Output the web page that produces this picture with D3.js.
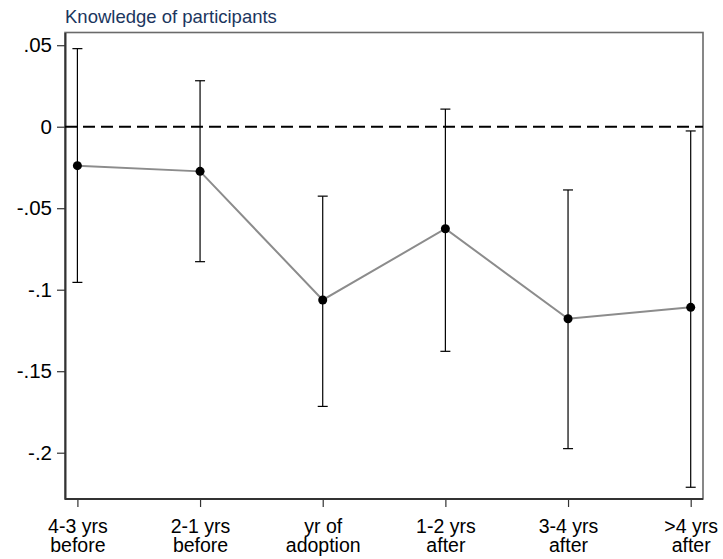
<!DOCTYPE html>
<html>
<head>
<meta charset="utf-8">
<script src="https://cdn.jsdelivr.net/npm/d3@7"></script>
<style>
  html, body { margin: 0; padding: 0; background: #fff; }
  svg { display: block; font-family: "Liberation Sans", Arial, sans-serif; }
</style>
</head>
<body>
<svg id="chart" width="723" height="559"></svg>
<script>
// Event-study estimates with 95% confidence intervals
const categories = ["4-3 yrs|before", "2-1 yrs|before", "yr of|adoption", "1-2 yrs|after", "3-4 yrs|after", ">4 yrs|after"];
const estimates = [-0.0239, -0.0274, -0.1063, -0.0626, -0.1178, -0.1108];
const ciLower = [-0.0955, -0.0828, -0.1716, -0.1378, -0.1975, -0.2212];
const ciUpper = [0.0479, 0.0282, -0.0426, 0.0108, -0.0388, -0.0026];
const yTicks = [0.05, 0, -0.05, -0.1, -0.15, -0.2];
const yTickLabels = [".05", "0", "-.05", "-.1", "-.15", "-.2"];
const title = "Knowledge of participants";

const svg = d3.select("#chart");
const plot = { left: 65, right: 703, top: 32.5, bottom: 499 };

const x = d3.scalePoint().domain(categories).range([77.4, 690.7]);
const y = d3.scaleLinear().domain([-0.2284, 0.0578]).range([plot.bottom, plot.top]);

// plot region frame
svg.append("rect")
  .attr("x", plot.left).attr("y", plot.top)
  .attr("width", plot.right - plot.left).attr("height", plot.bottom - plot.top)
  .attr("fill", "none").attr("stroke", "#6a6a6a").attr("stroke-width", 1.6);

// title
svg.append("text")
  .attr("x", plot.left).attr("y", 23)
  .attr("fill", "#1b365e").attr("font-size", 18.5)
  .text(title);

// y axis
const yAxis = d3.axisLeft(y).tickValues(yTicks).tickSize(8).tickSizeOuter(0).tickPadding(5)
  .tickFormat((d, i) => yTickLabels[i]);
const gy = svg.append("g").attr("transform", `translate(${plot.left},0)`).call(yAxis);
gy.select(".domain").attr("stroke", "#333").attr("stroke-width", 2);
gy.selectAll(".tick line").attr("stroke", "#333").attr("stroke-width", 1.2);
gy.selectAll(".tick text").attr("fill", "#000").attr("font-size", 20.5)
  .attr("font-family", "'Liberation Sans', Arial, sans-serif");

// x axis with two-line labels
const xAxis = d3.axisBottom(x).tickSize(8).tickSizeOuter(0).tickFormat("");
const gx = svg.append("g").attr("transform", `translate(0,${plot.bottom})`).call(xAxis);
gx.select(".domain").remove();
gx.selectAll(".tick line").attr("stroke", "#333").attr("stroke-width", 1.2);
gx.selectAll(".tick").append("text")
  .attr("fill", "#000").attr("font-size", 19.5).attr("text-anchor", "middle")
  .attr("font-family", "'Liberation Sans', Arial, sans-serif")
  .each(function (d) {
    const parts = d.split("|");
    const t = d3.select(this);
    t.append("tspan").attr("x", 0).attr("y", 34.3).text(parts[0]);
    t.append("tspan").attr("x", 0).attr("y", 52.9).text(parts[1]);
  });
// bottom axis line across the plot region
svg.append("line")
  .attr("x1", plot.left).attr("x2", plot.right)
  .attr("y1", plot.bottom).attr("y2", plot.bottom)
  .attr("stroke", "#333").attr("stroke-width", 2);

// zero reference line
svg.append("line")
  .attr("x1", plot.left).attr("x2", plot.right)
  .attr("y1", y(0)).attr("y2", y(0))
  .attr("stroke", "#000").attr("stroke-width", 2)
  .attr("stroke-dasharray", "12,6");

const data = categories.map((c, i) => ({ c, est: estimates[i], lo: ciLower[i], hi: ciUpper[i] }));

// confidence intervals
const ci = svg.append("g").attr("stroke", "#000").attr("stroke-width", 1.2);
ci.selectAll("line.bar").data(data).join("line").attr("class", "bar")
  .attr("x1", d => x(d.c)).attr("x2", d => x(d.c))
  .attr("y1", d => y(d.lo)).attr("y2", d => y(d.hi));
ci.selectAll("line.capHi").data(data).join("line").attr("class", "capHi")
  .attr("x1", d => x(d.c) - 5).attr("x2", d => x(d.c) + 5)
  .attr("y1", d => y(d.hi)).attr("y2", d => y(d.hi));
ci.selectAll("line.capLo").data(data).join("line").attr("class", "capLo")
  .attr("x1", d => x(d.c) - 5).attr("x2", d => x(d.c) + 5)
  .attr("y1", d => y(d.lo)).attr("y2", d => y(d.lo));

// connecting line of point estimates
svg.append("path").datum(data)
  .attr("fill", "none").attr("stroke", "#8c8c8c").attr("stroke-width", 2)
  .attr("d", d3.line().x(d => x(d.c)).y(d => y(d.est)));

// point estimates
svg.append("g").selectAll("circle").data(data).join("circle")
  .attr("cx", d => x(d.c)).attr("cy", d => y(d.est)).attr("r", 4.5)
  .attr("fill", "#000");
</script>
</body>
</html>
